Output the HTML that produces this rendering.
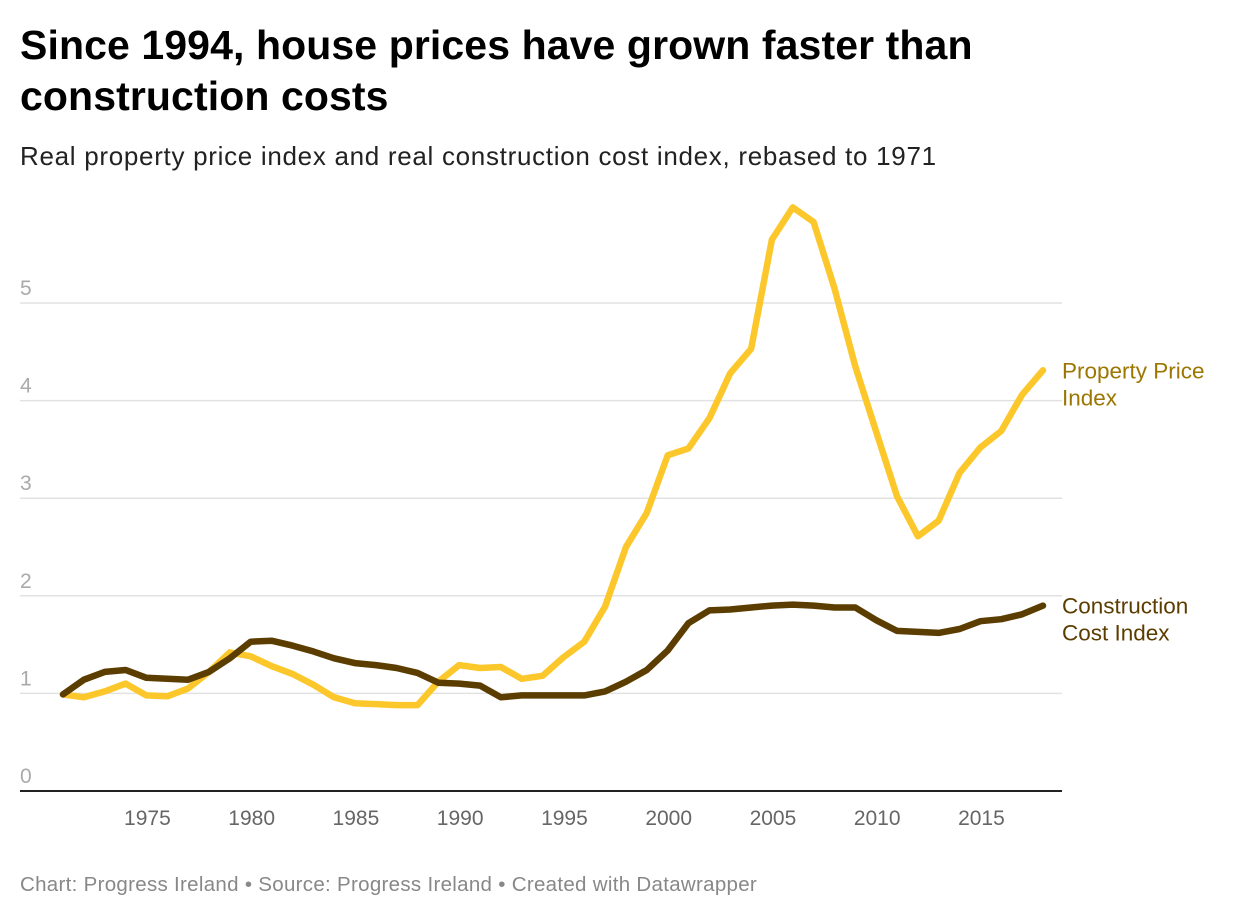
<!DOCTYPE html>
<html><head><meta charset="utf-8"><style>
body{margin:0;background:#fff;font-family:"Liberation Sans",sans-serif;}
#wrap{position:relative;width:1240px;height:918px;overflow:hidden}
h1{position:absolute;left:20px;top:20px;margin:0;font-size:41px;line-height:51px;font-weight:bold;color:#000;letter-spacing:0.1px}
.sub{position:absolute;left:20px;top:141px;font-size:26px;color:#222;letter-spacing:0.7px}
.foot{position:absolute;left:20px;top:873px;font-size:20.5px;color:#888;letter-spacing:0.3px}
</style></head><body>
<div id="wrap">
<h1>Since 1994, house prices have grown faster than<br>construction costs</h1>
<div class="sub">Real property price index and real construction cost index, rebased to 1971</div>
<svg id="chart" width="1240" height="918" style="position:absolute;left:0;top:0"></svg>
<div class="foot">Chart: Progress Ireland • Source: Progress Ireland • Created with Datawrapper</div>
</div>
<script>
const years=[];for(let y=1971;y<=2018;y++)years.push(y);
const propertyPrice=[0.99,0.96,1.02,1.10,0.98,0.97,1.05,1.22,1.42,1.38,1.28,1.20,1.09,0.96,0.90,0.89,0.88,0.88,1.12,1.29,1.26,1.27,1.15,1.18,1.37,1.53,1.89,2.50,2.85,3.44,3.51,3.82,4.28,4.53,5.65,5.98,5.83,5.15,4.35,3.68,3.02,2.61,2.77,3.26,3.52,3.69,4.06,4.31];
const constructionCost=[0.99,1.14,1.22,1.24,1.16,1.15,1.14,1.22,1.36,1.53,1.54,1.49,1.43,1.36,1.31,1.29,1.26,1.21,1.11,1.10,1.08,0.96,0.98,0.98,0.98,0.98,1.02,1.12,1.24,1.44,1.72,1.85,1.86,1.88,1.90,1.91,1.90,1.88,1.88,1.75,1.64,1.63,1.62,1.66,1.74,1.76,1.81,1.90];
const yTicks=[0,1,2,3,4,5];
const xTicks=[1975,1980,1985,1990,1995,2000,2005,2010,2015];
const NS="http://www.w3.org/2000/svg";
const svg=document.getElementById('chart');
const x=v=>63+(v-1971)*(1043-63)/(2018-1971);
const y=v=>791-v*97.6;
function mk(t,a){const e=document.createElementNS(NS,t);for(const k in a)e.setAttribute(k,a[k]);svg.appendChild(e);return e;}
yTicks.forEach(t=>{
  if(t>0){const g=mk('line',{x1:20,x2:1062,y1:y(t),y2:y(t),stroke:'#e2e2e2','stroke-width':1.5});
  
  }
  const l=mk('text',{x:20,y:y(t)-8,'font-size':21,fill:'#aaa','font-family':'Liberation Sans'});l.textContent=t;
  
  
});
const base=mk('line',{x1:20,x2:1062,y1:791,y2:791,stroke:'#222','stroke-width':2});


xTicks.forEach(t=>{
  const l=mk('text',{x:x(t)+1,y:825,'font-size':21,fill:'#666','text-anchor':'middle','font-family':'Liberation Sans'});l.textContent=t;
  
  
});
function line(vals,color,name){
  const p=mk('path',{d:vals.map((v,i)=>(i?'L':'M')+x(years[i]).toFixed(1)+','+y(v).toFixed(1)).join(''),fill:'none',stroke:color,'stroke-width':6.5,'stroke-linejoin':'round','stroke-linecap':'round'});
  
  
}
line(propertyPrice,'#fcc72a','property-price-line');
line(constructionCost,'#5c3d00','construction-cost-line');
function lab(lines,yy,color,name){
  const t=mk('text',{x:1062,y:yy,'font-size':22.5,fill:color,'font-family':'Liberation Sans'});
  
  
  lines.forEach((s,i)=>{const ts=document.createElementNS(NS,'tspan');ts.setAttribute('x',1062);ts.setAttribute('dy',i?27:0);ts.textContent=s;t.appendChild(ts);});
}
lab(['Property Price','Index'],y(propertyPrice[propertyPrice.length-1])+8,'#9c7600','property-price-label');
lab(['Construction','Cost Index'],y(constructionCost[constructionCost.length-1])+8,'#5c3d00','construction-cost-label');
</script>
</body></html>
